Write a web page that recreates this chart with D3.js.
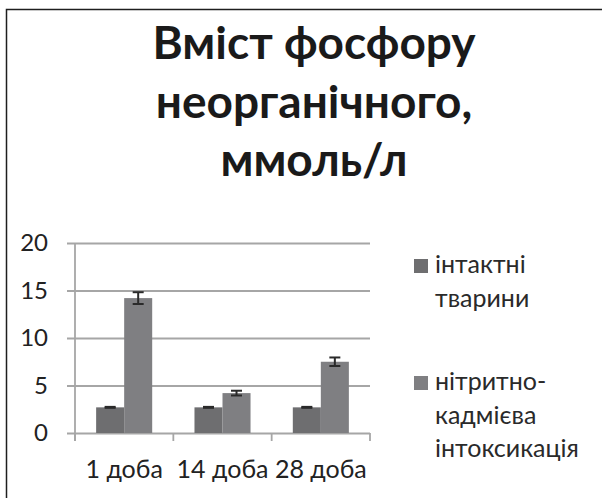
<!DOCTYPE html>
<html><head><meta charset="utf-8">
<script src="https://cdn.jsdelivr.net/npm/d3@7"></script>
<style>body{margin:0;background:#fff}svg{display:block}</style>
</head><body>
<svg id="c" width="602" height="498"></svg>
<script>
const titleLines = ["Вміст фосфору", "неорганічного,", "ммоль/л"];
const categories = ["1 доба", "14 доба", "28 доба"];
const seriesNames = [["інтактні", "тварини"], ["нітритно-", "кадмієва", "інтоксикація"]];
const intactValues = [2.7, 2.7, 2.7];
const intactErrors = [0.05, 0.05, 0.05];
const intoxValues = [14.2, 4.2, 7.5];
const intoxErrors = [0.62, 0.25, 0.45];
const yTicks = [0, 5, 10, 15, 20];

const colors = ["#6e6e70", "#7f7f82"];
const svg = d3.select("#c");
const font = "Lato, 'Open Sans', sans-serif";

// border
svg.append("path").attr("d", "M6.5,498 V9.5 H602").attr("fill", "none").attr("stroke", "#1e1e1e").attr("stroke-width", 1.5);

// title
svg.append("g").selectAll("text").data(titleLines).join("text")
  .attr("x", 314).attr("y", (d, i) => 59 + i * 58.5)
  .attr("text-anchor", "middle").attr("font-family", font).attr("font-weight", 700)
  .attr("font-size", 46).attr("fill", "#1a1a1a").text(d => d);

const y = d3.scaleLinear().domain([0, 20]).range([433, 243]);
const x = d3.scaleBand().domain(categories).range([75, 370]).paddingInner(0.43).paddingOuter(0.215);
const xs = d3.scaleBand().domain([0, 1]).range([0, x.bandwidth()]).padding(0);
const xOuter = d3.scaleBand().domain(categories).range([75, 370]).padding(0);

// gridlines + y axis
const ya = svg.append("g").attr("transform", "translate(75,0)")
  .call(d3.axisLeft(y).tickValues(yTicks).tickSize(8).tickPadding(19));
ya.select(".domain").remove();
ya.selectAll(".tick line").attr("stroke", "#a6a6a6").attr("stroke-width", 1.8).attr("x2", 370 - 75).attr("x1", -8);
ya.selectAll(".tick text").attr("font-family", font).attr("font-size", 24).attr("fill", "#222");

// vertical axis line
svg.append("line").attr("x1", 75).attr("x2", 75).attr("y1", 243).attr("y2", 441)
  .attr("stroke", "#a6a6a6").attr("stroke-width", 1.8);

// category ticks at boundaries
const bounds = categories.map(c => xOuter(c)).concat([xOuter(categories[2]) + xOuter.bandwidth()]);
svg.append("g").selectAll("line").data(bounds).join("line")
  .attr("x1", d => d).attr("x2", d => d).attr("y1", 433).attr("y2", 441)
  .attr("stroke", "#a6a6a6").attr("stroke-width", 1.8);

// category labels
const xa = svg.append("g").attr("transform", "translate(0,433)")
  .call(d3.axisBottom(x).tickSize(0).tickPadding(27));
xa.select(".domain").remove();
xa.selectAll(".tick text").attr("font-family", font).attr("font-size", 25).attr("fill", "#222");

const series = [
  {vals: intactValues, errs: intactErrors},
  {vals: intoxValues, errs: intoxErrors}
];
series.forEach((s, si) => {
  const g = svg.append("g");
  g.selectAll("rect").data(categories).join("rect")
    .attr("x", c => x(c) + xs(si)).attr("width", xs.bandwidth())
    .attr("y", (c, i) => y(s.vals[i])).attr("height", (c, i) => y(0) - y(s.vals[i]))
    .attr("fill", colors[si]);
  categories.forEach((c, i) => {
    const cx = x(c) + xs(si) + xs.bandwidth() / 2;
    const hi = y(s.vals[i] + s.errs[i]), lo = y(s.vals[i] - s.errs[i]);
    const e = g.append("g").attr("stroke", "#2a2a2a").attr("stroke-width", 2);
    e.append("line").attr("x1", cx).attr("x2", cx).attr("y1", hi).attr("y2", lo);
    e.append("line").attr("x1", cx - 5.5).attr("x2", cx + 5.5).attr("y1", hi).attr("y2", hi);
    e.append("line").attr("x1", cx - 5.5).attr("x2", cx + 5.5).attr("y1", lo).attr("y2", lo);
  });
});

// legend
const legendTop = [259, 376];
seriesNames.forEach((lines, si) => {
  svg.append("rect").attr("x", 414).attr("y", legendTop[si]).attr("width", 14).attr("height", 14).attr("fill", colors[si]);
  svg.append("g").selectAll("text").data(lines).join("text")
    .attr("x", 435).attr("y", (d, i) => legendTop[si] + 14 + i * 33.5)
    .attr("font-family", font).attr("font-size", 25).attr("fill", "#2a2a2a").text(d => d);
});
</script>
</body></html>
